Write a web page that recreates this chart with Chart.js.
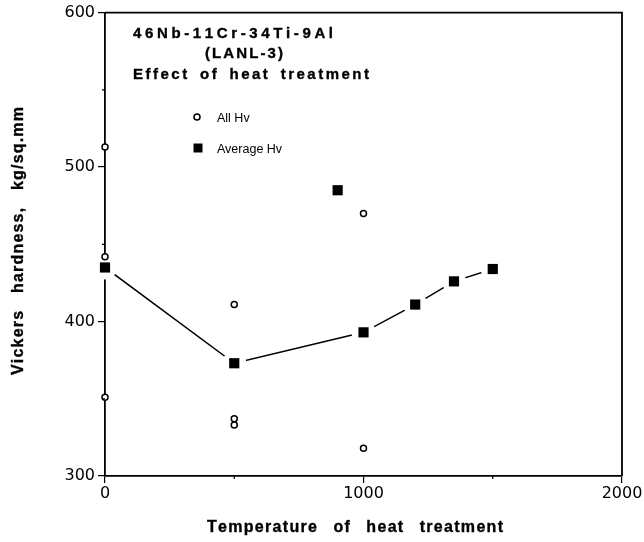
<!DOCTYPE html>
<html>
<head>
<meta charset="utf-8">
<script src="https://cdn.jsdelivr.net/npm/chart.js@4.4.1/dist/chart.umd.min.js"></script>
<style>
  html, body { margin: 0; padding: 0; background: #fff; }
  #wrap { width: 644px; height: 542px; }
</style>
</head>
<body>
<div id="wrap"><canvas id="hvChart" width="644" height="542"></canvas></div>
<script>
// individual hardness readings
var allTemps = [0, 0, 0, 500, 500, 500, 1000, 1000];
var allHv = [513, 442, 351, 411, 337, 333, 470, 318];

// averaged hardness per treatment
var avgTemps = [0, 500, 900, 1000, 1200, 1350, 1500];
var avgHv = [435, 373, 485, 393, 411, 426, 434];

// the 900 point is left off the trend line
var offTrend = [900];

var xTicks = [0, 1000, 2000];
var yTicks = [300, 400, 500, 600];
var xMinor = [500, 1500];
var yMinor = [350, 450, 550];

function pts(xs, ys) {
    return xs.map(function (x, i) { return { x: x, y: ys[i] }; });
}

var avgPts = pts(avgTemps, avgHv);
var trendPts = avgPts.filter(function (p) { return offTrend.indexOf(p.x) < 0; });

// draws text with spread letters / words so it fills a given width
function drawSpaced(ctx, text, x, y, width, ls) {
    var words = text.split(' ');
    var widths = words.map(function (w) {
        return w.split('').reduce(function (s, c) { return s + ctx.measureText(c).width; }, 0);
    });
    var gap = 0;
    if (words.length === 1) {
        ls = (width - widths[0]) / (words[0].length - 1);
    } else {
        var used = 0;
        words.forEach(function (w, i) { used += widths[i] + ls * (w.length - 1); });
        gap = (width - used) / (words.length - 1);
    }
    var cx = x;
    words.forEach(function (w) {
        w.split('').forEach(function (c) {
            ctx.fillText(c, cx, y);
            ctx.strokeText(c, cx, y);
            cx += ctx.measureText(c).width + ls;
        });
        cx += gap - ls;
    });
}

var framePlugin = {
    id: 'frame',
    afterDraw: function (chart) {
        var ctx = chart.ctx;
        var a = chart.chartArea;
        var xs = chart.scales.x, ys = chart.scales.y;
        ctx.save();
        ctx.strokeStyle = '#000';
        ctx.lineWidth = 1.8;
        ctx.beginPath();
        ctx.moveTo(a.left, a.top);
        ctx.lineTo(a.right, a.top);
        ctx.lineTo(a.right, a.bottom);
        ctx.stroke();

        // minor ticks
        ctx.lineWidth = 1.2;
        ctx.beginPath();
        yMinor.forEach(function (v) {
            var py = ys.getPixelForValue(v);
            ctx.moveTo(a.left, py);
            ctx.lineTo(a.left - 3, py);
        });
        xMinor.forEach(function (v) {
            var px = xs.getPixelForValue(v);
            ctx.moveTo(px, a.bottom);
            ctx.lineTo(px, a.bottom + 3);
        });
        ctx.stroke();

        ctx.fillStyle = '#000';
        ctx.textBaseline = 'alphabetic';
        ctx.textAlign = 'left';
        ctx.lineWidth = 0.35;

        // title block
        ctx.font = 'bold 15px "Liberation Sans", Arial, sans-serif';
        drawSpaced(ctx, '46Nb-11Cr-34Ti-9Al', 133, 38, 200, 0);
        drawSpaced(ctx, '(LANL-3)', 205, 58, 78, 0);
        drawSpaced(ctx, 'Effect of heat treatment', 133, 79, 236, 2.5);

        // axis titles
        ctx.font = 'bold 16px "Liberation Sans", Arial, sans-serif';
        drawSpaced(ctx, 'Temperature of heat treatment', 207, 532, 296, 1.3);
        ctx.save();
        ctx.translate(23, 241);
        ctx.rotate(-Math.PI / 2);
        drawSpaced(ctx, 'Vickers hardness, kg/sq.mm', -134, 0, 268, 1.2);
        ctx.restore();

        // legend
        ctx.lineWidth = 1.5;
        ctx.beginPath();
        ctx.arc(197, 117, 3, 0, Math.PI * 2);
        ctx.fillStyle = '#fff';
        ctx.fill();
        ctx.stroke();
        ctx.fillStyle = '#000';
        ctx.fillRect(193.5, 143.5, 9, 9);
        ctx.font = '12.5px "Liberation Sans", Arial, sans-serif';
        ctx.fillText('All Hv', 217, 122);
        ctx.fillText('Average Hv', 217, 153);
        ctx.restore();
    }
};

var tickFont = { family: '"DejaVu Sans", sans-serif', size: 16 };

new Chart(document.getElementById('hvChart').getContext('2d'), {
    type: 'scatter',
    data: {
        datasets: [
            {
                label: 'Average Hv',
                data: avgPts,
                pointStyle: 'rect',
                pointRadius: 7.2,
                backgroundColor: '#000',
                borderWidth: 0,
                clip: false,
                order: 0
            },
            {
                label: 'All Hv',
                data: pts(allTemps, allHv),
                pointStyle: 'circle',
                pointRadius: 3,
                backgroundColor: '#fff',
                borderColor: '#000',
                borderWidth: 1.5,
                clip: false,
                order: 1
            },
            {
                label: 'gap',
                data: trendPts,
                pointStyle: 'circle',
                pointRadius: 12,
                backgroundColor: '#fff',
                borderWidth: 0,
                clip: false,
                order: 2
            },
            {
                label: 'trend',
                data: trendPts,
                showLine: true,
                pointRadius: 0,
                borderColor: '#000',
                borderWidth: 1.5,
                order: 3
            }
        ]
    },
    options: {
        responsive: false,
        maintainAspectRatio: false,
        animation: false,
        layout: { padding: { top: 10, right: 22, left: 0, bottom: 0 } },
        plugins: {
            legend: { display: false },
            tooltip: { enabled: false }
        },
        scales: {
            x: {
                type: 'linear',
                min: 0,
                max: 2000,
                z: 1,
                afterBuildTicks: function (s) { s.ticks = xTicks.map(function (v) { return { value: v }; }); },
                afterFit: function (s) { s.height = 66; },
                ticks: {
                    color: '#000', font: tickFont, padding: 1, maxRotation: 0,
                    callback: function (v) { return String(v); }
                },
                grid: { drawOnChartArea: false, color: '#000', tickLength: 7, lineWidth: 1.2 },
                border: { color: '#000', width: 1.8 }
            },
            y: {
                type: 'linear',
                min: 300,
                max: 600,
                z: 1,
                afterBuildTicks: function (s) { s.ticks = yTicks.map(function (v) { return { value: v }; }); },
                afterFit: function (s) { s.width = 105; },
                ticks: {
                    color: '#000', font: tickFont, padding: 3,
                    callback: function (v) { return String(v); }
                },
                grid: { drawOnChartArea: false, color: '#000', tickLength: 7, lineWidth: 1.2 },
                border: { color: '#000', width: 1.8 }
            }
        }
    },
    plugins: [framePlugin]
});
</script>
</body>
</html>
